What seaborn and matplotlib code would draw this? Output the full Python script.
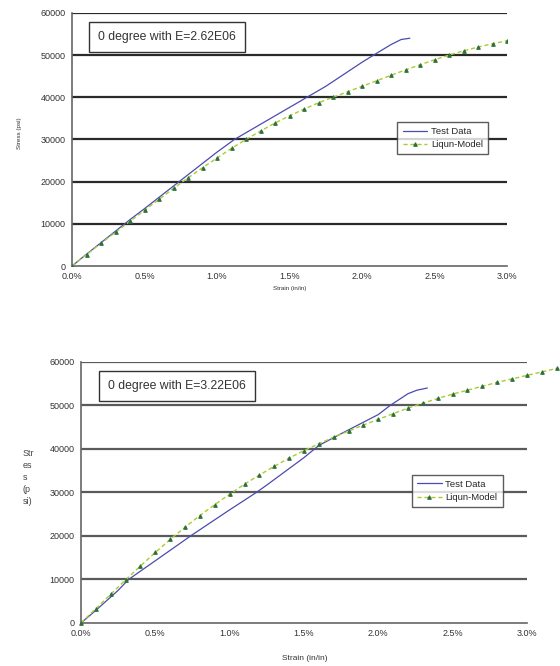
import matplotlib
matplotlib.use("Agg")
import matplotlib.pyplot as plt
import seaborn as sns
import pandas as pd
from matplotlib.ticker import FuncFormatter

# ---- data (strain in %, stress in psi) ----
top_test_strain = [0.0, 0.1, 0.25, 0.4, 0.5, 0.75, 1.0, 1.12, 1.25, 1.35, 1.5, 1.62, 1.75, 2.0, 2.08, 2.2, 2.27, 2.33]
top_test_stress = [0, 2800, 6900, 11000, 13600, 20300, 27000, 30000, 32600, 34600, 37600, 40000, 42600, 48300, 50000, 52500, 53700, 54000]

top_model_strain = [0.0, 0.1, 0.2, 0.3, 0.4, 0.5, 0.6, 0.7, 0.8, 0.9, 1.0, 1.1, 1.2, 1.3, 1.4, 1.5,
                    1.6, 1.7, 1.8, 1.9, 2.0, 2.1, 2.2, 2.3, 2.4, 2.5, 2.6, 2.7, 2.8, 2.9, 3.0]
top_model_stress = [0, 2700, 5400, 8000, 10600, 13200, 15800, 18400, 20900, 23300, 25600, 27900, 30000,
                    32000, 33900, 35600, 37200, 38700, 40000, 41300, 42600, 43900, 45200, 46500, 47700,
                    48900, 50000, 51000, 51900, 52700, 53400]

bot_test_strain = [0.0, 0.1, 0.25, 0.32, 0.5, 0.75, 1.0, 1.18, 1.25, 1.5, 1.6, 1.75, 2.0, 2.08, 2.2, 2.26, 2.33]
bot_test_stress = [0, 2900, 7500, 10000, 14300, 20300, 26000, 30000, 31700, 38000, 40800, 43500, 47900, 50000, 52700, 53500, 54000]

bot_model_strain = [0.0, 0.1, 0.2, 0.3, 0.4, 0.5, 0.6, 0.7, 0.8, 0.9, 1.0, 1.1, 1.2, 1.3, 1.4, 1.5,
                    1.6, 1.7, 1.8, 1.9, 2.0, 2.1, 2.2, 2.3, 2.4, 2.5, 2.6, 2.7, 2.8, 2.9, 3.0, 3.1, 3.2]
bot_model_stress = [0, 3300, 6600, 9900, 13100, 16200, 19200, 22000, 24700, 27200, 29600, 31900, 34000,
                    36000, 37900, 39600, 41200, 42700, 44100, 45500, 46800, 48100, 49400, 50500, 51600,
                    52600, 53500, 54400, 55300, 56100, 56900, 57700, 58500]

x_ticks = [0.0, 0.5, 1.0, 1.5, 2.0, 2.5, 3.0]
y_ticks = [0, 10000, 20000, 30000, 40000, 50000, 60000]
titles = ["0 degree with E=2.62E06", "0 degree with E=3.22E06"]

sns.set_style("white")
plt.rcParams['font.family'] = ['Liberation Sans', 'DejaVu Sans']

fig = plt.figure(figsize=(5.6, 6.66), dpi=100)
ax1 = fig.add_axes([0.1286, 0.6006, 0.7768, 0.380])
ax2 = fig.add_axes([0.1446, 0.0646, 0.7964, 0.392])

test_color = "#4b4bb0"
model_line = "#a8cc30"
model_mark = "#2f6f3a"


def draw(ax, ts, tv, ms, mv, title, grid_color, box_xy, leg_anchor, clip):
    dt = pd.DataFrame({"strain": ts, "stress": tv})
    dm = pd.DataFrame({"strain": ms, "stress": mv})
    sns.lineplot(data=dt, x="strain", y="stress", ax=ax, color=test_color, lw=0.9,
                 sort=False, label="Test Data", zorder=4)
    sns.lineplot(data=dm, x="strain", y="stress", ax=ax, color=model_line, lw=1.0,
                 linestyle=(0, (3, 2)), marker="^", markersize=2.6,
                 markerfacecolor=model_mark, markeredgecolor=model_mark,
                 sort=False, label="Liqun-Model", zorder=5)
    for ln in ax.lines:
        ln.set_clip_on(clip)
    ax.set_xlim(0, 3.0)
    ax.set_ylim(0, 60000)
    ax.set_xticks(x_ticks)
    ax.set_yticks(y_ticks)
    ax.xaxis.set_major_formatter(FuncFormatter(lambda v, p: f"{v:.1f}%"))
    ax.yaxis.set_major_formatter(FuncFormatter(lambda v, p: f"{int(v)}"))
    ax.tick_params(axis="x", direction="in", length=3, width=0.8, color="#666666",
                   labelsize=6.5, pad=4, labelcolor="#333333")
    ax.tick_params(axis="y", direction="inout", length=5, width=0.8, color="#666666",
                   labelsize=6.5, pad=2, labelcolor="#333333")
    for v in y_ticks[1:]:
        ax.axhline(v, color=grid_color, lw=1.6, zorder=1)
    for s in ["top", "right"]:
        ax.spines[s].set_visible(False)
    for s in ["left", "bottom"]:
        ax.spines[s].set_color("#666666")
        ax.spines[s].set_linewidth(1.2)
    ax.set_xlabel("")
    ax.set_ylabel("")
    ax.text(box_xy[0], box_xy[1], title, transform=ax.transAxes, fontsize=8.8,
            color="#333333", va="center", ha="left",
            bbox=dict(boxstyle="square,pad=0.75", fc="white", ec="#333333", lw=1.0))
    leg = ax.legend(loc="center left", bbox_to_anchor=leg_anchor, fontsize=6.8,
                    frameon=True, fancybox=False, edgecolor="#333333",
                    handlelength=2.6, handletextpad=0.4, borderpad=0.55,
                    labelspacing=0.45, borderaxespad=0)
    leg.get_frame().set_linewidth(1.0)
    leg.set_zorder(6)


draw(ax1, top_test_strain, top_test_stress, top_model_strain, top_model_stress,
     titles[0], "#2a2a2a", (0.06, 0.905), (0.748, 0.506), True)
draw(ax2, bot_test_strain, bot_test_stress, bot_model_strain, bot_model_stress,
     titles[1], "#5a5a5a", (0.06, 0.908), (0.742, 0.506), False)

fig.text(0.034, 0.800, "Stress (psi)", rotation=90, fontsize=4.5, ha="center", va="center",
         color="#333333")
fig.text(0.518, 0.567, "Strain (in/in)", fontsize=4.5, ha="center", va="center", color="#333333")
fig.text(0.040, 0.283, "Str\nes\ns\n(p\nsi)", fontsize=6.5, ha="left", va="center",
         color="#444444", linespacing=1.45, multialignment="left")
fig.text(0.545, 0.012, "Strain (in/in)", fontsize=6, ha="center", va="center", color="#333333")

fig.savefig("out.png", dpi=100)
